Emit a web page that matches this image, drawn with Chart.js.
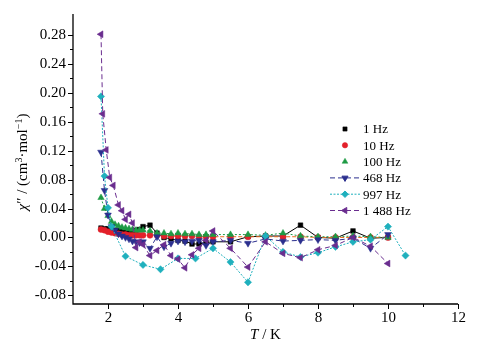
<!DOCTYPE html>
<html>
<head>
<meta charset="utf-8">
<script src="https://cdn.jsdelivr.net/npm/chart.js@4/dist/chart.umd.min.js"></script>
<style>
html,body{margin:0;padding:0;background:#fff;}
#wrap{width:499px;height:350px;}
</style>
</head>
<body>
<div id="wrap"><canvas id="c" width="499" height="350"></canvas></div>
<script>
// ---- data ----
const seriesLabels = ['1 Hz', '10 Hz', '100 Hz', '468 Hz', '997 Hz', '1 488 Hz'];
const tempMain = [1.8,1.9,2.0,2.1,2.2,2.3,2.4,2.5,2.6,2.7,2.8,2.9,3.0,3.2,3.4,3.6,3.8,4.0,4.2,4.4,4.6,4.8,5.0,5.5,6.0,6.5,7.0,7.5,8.0,8.5,9.0,9.5,10.0];
const chi1Hz = [0.013,0.012,0.012,0.011,0.010,0.010,0.009,0.009,0.009,0.009,0.010,0.011,0.015,0.017,0.006,0.000,-0.002,-0.004,-0.005,-0.009,-0.009,-0.007,-0.006,-0.006,0.001,0.002,0.002,0.017,0.000,-0.001,0.009,-0.001,0.000];
const chi10Hz = [0.011,0.010,0.008,0.007,0.006,0.005,0.004,0.004,0.003,0.003,0.003,0.003,0.003,0.003,0.003,0.002,0.002,0.002,0.002,0.002,0.001,0.001,0.001,0.001,0.001,0.001,0.001,0.001,0.000,0.000,0.000,0.000,0.000];
const chi100Hz = [0.055,0.040,0.030,0.022,0.018,0.016,0.014,0.013,0.012,0.011,0.010,0.010,0.010,0.009,0.006,0.006,0.005,0.006,0.005,0.005,0.004,0.004,0.004,0.004,0.004,0.003,0.006,0.002,0.001,0.001,0.002,0.001,0.000];
const chi468Hz = [0.118,0.065,0.031,0.015,0.010,0.005,0.002,0.000,-0.002,-0.005,-0.006,-0.007,-0.006,-0.015,0.001,-0.013,-0.008,-0.005,-0.006,-0.005,-0.004,-0.011,-0.006,-0.004,-0.008,-0.002,-0.005,-0.004,-0.003,-0.004,-0.001,-0.015,0.004];
const temp997 = [1.8,1.9,2.0,2.1,2.5,3.0,3.5,4.0,4.5,5.0,5.5,6.0,6.5,7.0,7.5,8.0,8.5,9.0,9.5,10.0,10.5];
const chi997Hz = [0.195,0.085,0.041,0.015,-0.026,-0.038,-0.044,-0.029,-0.029,-0.015,-0.034,-0.062,0.002,-0.020,-0.027,-0.021,-0.013,-0.006,-0.003,0.015,-0.025];
const temp1488 = [1.8,1.85,1.95,2.05,2.15,2.3,2.4,2.5,2.6,2.7,2.8,2.9,3.0,3.2,3.4,3.6,3.8,4.0,4.2,4.4,4.6,4.8,5.0,5.5,6.0,6.5,7.0,7.5,8.0,8.5,9.0,9.5,10.0];
const chi1488Hz = [0.281,0.171,0.121,0.083,0.072,0.045,0.037,0.025,0.032,0.020,-0.014,-0.006,-0.010,-0.025,-0.018,-0.010,-0.025,-0.030,-0.042,-0.024,-0.015,-0.004,0.009,-0.015,-0.041,-0.006,-0.022,-0.028,-0.017,-0.011,0.000,-0.012,-0.036];
const xMajorTicks = [2,4,6,8,10,12];
const xMinorTicks = [3,5,7,9,11];
const yMajorTicks = ['-0.08','-0.04','0.00','0.04','0.08','0.12','0.16','0.20','0.24','0.28'];
const yMinorTicks = [-0.06,-0.02,0.02,0.06,0.10,0.14,0.18,0.22,0.26];

// ---- build ----
const pts = (xs, ys) => xs.map((x, i) => ({x: x, y: ys[i]}));
const styles = [
  {color:'#000000', line:'#000000', dash:[], pointStyle:'rect', rot:0, r:3.3, legendLine:false},
  {color:'#e3202a', line:'#ee6a1f', dash:[4,2], pointStyle:'circle', rot:0, r:3.0, legendLine:false},
  {color:'#1e9a45', line:'#1e9a45', dash:[2,2], pointStyle:'triangle', rot:0, r:3.7, legendLine:false},
  {color:'#2b2f8e', line:'#2b2f8e', dash:[5,3], pointStyle:'triangle', rot:180, r:3.9, legendLine:true},
  {color:'#1fb0bd', line:'#1fb0bd', dash:[2,1.5], pointStyle:'rectRot', rot:0, r:3.6, legendLine:true},
  {color:'#6a2d8f', line:'#6a2d8f', dash:[5,3], pointStyle:'triangle', rot:-90, r:3.9, legendLine:true}
];
const dataSets = [pts(tempMain, chi1Hz), pts(tempMain, chi10Hz), pts(tempMain, chi100Hz), pts(tempMain, chi468Hz), pts(temp997, chi997Hz), pts(temp1488, chi1488Hz)];
const drawOrder = [5,4,3,2,1,0];
const datasets = dataSets.map((d, i) => ({
  label: seriesLabels[i],
  data: d,
  borderColor: styles[i].line,
  backgroundColor: styles[i].color,
  pointBackgroundColor: styles[i].color,
  pointBorderColor: styles[i].color,
  pointBorderWidth: 0.5,
  borderWidth: 1,
  borderDash: styles[i].dash,
  pointStyle: styles[i].pointStyle,
  pointRotation: styles[i].rot,
  pointRadius: styles[i].r,
  fill: false,
  tension: 0,
  order: drawOrder[i]
}));

const SERIF = '"Liberation Serif","Times New Roman",serif';

const axesPlugin = {
  id: 'axesPlugin',
  afterDraw(chart) {
    const ctx = chart.ctx;
    const xs = chart.scales.x, ys = chart.scales.y;
    const a = chart.chartArea;
    ctx.save();
    ctx.strokeStyle = '#000';
    ctx.fillStyle = '#000';
    ctx.lineWidth = 1.3;
    ctx.beginPath();
    ctx.moveTo(a.left, a.top);
    ctx.lineTo(a.left, a.bottom);
    ctx.lineTo(a.right, a.bottom);
    ctx.stroke();
    ctx.lineWidth = 1;
    // x ticks
    ctx.font = '15px ' + SERIF;
    ctx.textAlign = 'center';
    ctx.textBaseline = 'top';
    xMajorTicks.forEach(v => {
      const px = Math.round(xs.getPixelForValue(v)) + 0.5;
      ctx.beginPath(); ctx.moveTo(px, a.bottom); ctx.lineTo(px, a.bottom + 5); ctx.stroke();
      ctx.fillText(String(v), px, a.bottom + 7);
    });
    xMinorTicks.forEach(v => {
      const px = Math.round(xs.getPixelForValue(v)) + 0.5;
      ctx.beginPath(); ctx.moveTo(px, a.bottom); ctx.lineTo(px, a.bottom + 3); ctx.stroke();
    });
    // y ticks
    ctx.textAlign = 'right';
    ctx.textBaseline = 'middle';
    yMajorTicks.forEach(t => {
      const py = Math.round(ys.getPixelForValue(parseFloat(t))) + 0.5;
      ctx.beginPath(); ctx.moveTo(a.left, py); ctx.lineTo(a.left - 5, py); ctx.stroke();
      ctx.fillText(t, a.left - 7, py);
    });
    yMinorTicks.forEach(v => {
      const py = Math.round(ys.getPixelForValue(v)) + 0.5;
      ctx.beginPath(); ctx.moveTo(a.left, py); ctx.lineTo(a.left - 3, py); ctx.stroke();
    });
    // x title: T / K
    ctx.textBaseline = 'alphabetic';
    ctx.textAlign = 'left';
    const itF = 'italic 15px ' + SERIF, nF = '15px ' + SERIF;
    ctx.font = itF; const wT = ctx.measureText('T').width;
    ctx.font = nF; const wR = ctx.measureText(' / K').width;
    let sx = (a.left + a.right) / 2 - (wT + wR) / 2;
    const ty = 339;
    ctx.font = itF; ctx.fillText('T', sx, ty);
    ctx.font = nF; ctx.fillText(' / K', sx + wT, ty);
    // y title
    const parts = [
      {t:'\u03C7', f:'italic 15px ' + SERIF, dy:0},
      {t:'\u2033 / (cm', f:'15px ' + SERIF, dy:0},
      {t:'3', f:'10px ' + SERIF, dy:-5},
      {t:'\u00B7mol', f:'15px ' + SERIF, dy:0},
      {t:'\u22121', f:'10px ' + SERIF, dy:-5},
      {t:')', f:'15px ' + SERIF, dy:0}
    ];
    let total = 0;
    parts.forEach(p => { ctx.font = p.f; p.w = ctx.measureText(p.t).width; total += p.w; });
    ctx.translate(27, (a.top + a.bottom) / 2 + 3);
    ctx.rotate(-Math.PI / 2);
    let cx = -total / 2;
    parts.forEach(p => { ctx.font = p.f; ctx.fillText(p.t, cx, p.dy); cx += p.w; });
    ctx.restore();

    // legend
    ctx.save();
    const lx = 345, ly0 = 129, dyL = 16.3;
    chart.data.datasets.forEach((ds, i) => {
      const y = ly0 + i * dyL;
      const st = styles[i];
      if (st.legendLine) {
        ctx.strokeStyle = st.line; ctx.lineWidth = 1; ctx.setLineDash(st.dash);
        ctx.beginPath(); ctx.moveTo(lx - 15, y); ctx.lineTo(lx + 15, y); ctx.stroke();
        ctx.setLineDash([]);
      }
      ctx.fillStyle = st.color; ctx.strokeStyle = st.color;
      Chart.helpers.drawPoint(ctx, {pointStyle: st.pointStyle, rotation: st.rot, radius: st.r * 0.9, borderWidth: 0.5}, lx, y);
      ctx.fillStyle = '#000';
      ctx.font = '13px ' + SERIF;
      ctx.textAlign = 'left'; ctx.textBaseline = 'middle';
      ctx.fillText(ds.label, lx + 18, y + 1);
    });
    ctx.restore();
  }
};

new Chart(document.getElementById('c'), {
  type: 'line',
  data: { datasets: datasets },
  options: {
    responsive: false,
    animation: false,
    devicePixelRatio: 1,
    layout: { padding: { left: 73, top: 14, right: 41, bottom: 46 } },
    plugins: { legend: { display: false }, tooltip: { enabled: false } },
    scales: {
      x: { type: 'linear', min: 1, max: 12, display: false },
      y: { type: 'linear', min: -0.092, max: 0.309, display: false }
    },
    clip: false
  },
  plugins: [axesPlugin]
});
</script>
</body>
</html>
